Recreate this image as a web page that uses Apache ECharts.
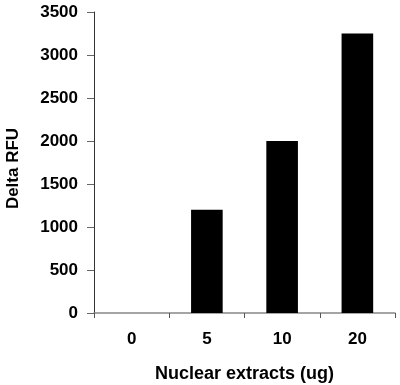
<!DOCTYPE html>
<html><head><meta charset="utf-8">
<script src="https://cdn.jsdelivr.net/npm/echarts@6/dist/echarts.min.js"></script>
<style>html,body{margin:0;padding:0;background:#fff}#c{width:400px;height:385px}</style>
</head><body><div id="c"></div>
<script>
const categories = ['0', '5', '10', '20'];
const values = [0, 1200, 2000, 3250];
const yTicks = { min: 0, max: 3500, interval: 500 };

const chart = echarts.init(document.getElementById('c'), null, { renderer: 'canvas' });
const font = 'Liberation Sans, Arial, sans-serif';
chart.setOption({
  animation: false,
  grid: { left: 94, right: 5, top: 12, bottom: 72, containLabel: false, outerBoundsMode: 'none' },
  xAxis: {
    type: 'category', data: categories,
    name: 'Nuclear extracts (ug)', nameLocation: 'middle', nameGap: 52,
    nameTextStyle: { fontFamily: font, fontWeight: 'bold', fontSize: 18, color: '#000' },
    axisLine: { lineStyle: { color: '#888', width: 1.5 } },
    axisTick: { show: true, length: 5, lineStyle: { color: '#555' } },
    axisLabel: { fontFamily: font, fontWeight: 'bold', fontSize: 17, color: '#000', margin: 18 }
  },
  yAxis: {
    type: 'value', min: yTicks.min, max: yTicks.max, interval: yTicks.interval,
    name: 'Delta RFU', nameLocation: 'middle', nameGap: 72, nameRotate: 90,
    nameTextStyle: { fontFamily: font, fontWeight: 'bold', fontSize: 17, color: '#000', padding: [0, 12, 0, 0] },
    axisLine: { show: true, lineStyle: { color: '#333', width: 1 } },
    axisTick: { show: true, length: 7, lineStyle: { color: '#666' } },
    axisLabel: { fontFamily: font, fontWeight: 'bold', fontSize: 17, color: '#000', margin: 16,
      formatter: v => String(v) },
    splitLine: { show: false }
  },
  series: [{
    type: 'bar', data: values, barWidth: '42%',
    itemStyle: { color: '#000' }
  }]
});
</script></body></html>
